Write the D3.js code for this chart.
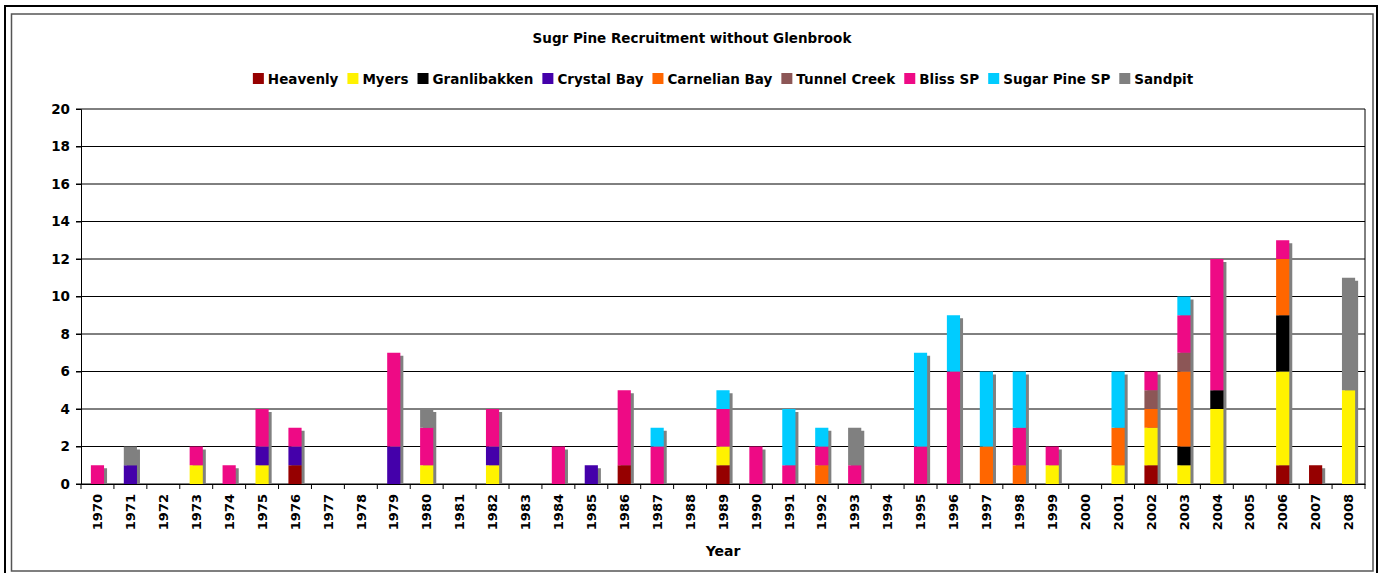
<!DOCTYPE html>
<html>
<head>
<meta charset="utf-8">
<script src="https://cdn.jsdelivr.net/npm/d3@7"></script>
<style>
  body { margin: 0; background: #fff; }
  text { font-family: "DejaVu Sans", Verdana, sans-serif; font-weight: bold; fill: #000; }
</style>
</head>
<body>
<script>
var years = d3.range(1970, 2009);

var sites = ["Heavenly", "Myers", "Granlibakken", "Crystal Bay", "Carnelian Bay",
             "Tunnel Creek", "Bliss SP", "Sugar Pine SP", "Sandpit"];
var colors = ["#960000", "#fff200", "#000000", "#4400aa", "#ff6600",
              "#8c5656", "#ee0a85", "#00ccff", "#808080"];

// one value per year, 1970..2008
var heavenly    = [0,0,0,0,0,0,1,0,0,0, 0,0,0,0,0,0,1,0,0,1, 0,0,0,0,0,0,0,0,0,0, 0,0,1,0,0,0,1,1,0];
var myers       = [0,0,0,1,0,1,0,0,0,0, 1,0,1,0,0,0,0,0,0,1, 0,0,0,0,0,0,0,0,0,1, 0,1,2,1,4,0,5,0,5];
var granlibakken= [0,0,0,0,0,0,0,0,0,0, 0,0,0,0,0,0,0,0,0,0, 0,0,0,0,0,0,0,0,0,0, 0,0,0,1,1,0,3,0,0];
var crystalBay  = [0,1,0,0,0,1,1,0,0,2, 0,0,1,0,0,1,0,0,0,0, 0,0,0,0,0,0,0,0,0,0, 0,0,0,0,0,0,0,0,0];
var carnelianBay= [0,0,0,0,0,0,0,0,0,0, 0,0,0,0,0,0,0,0,0,0, 0,0,1,0,0,0,0,2,1,0, 0,2,1,4,0,0,3,0,0];
var tunnelCreek = [0,0,0,0,0,0,0,0,0,0, 0,0,0,0,0,0,0,0,0,0, 0,0,0,0,0,0,0,0,0,0, 0,0,1,1,0,0,0,0,0];
var blissSP     = [1,0,0,1,1,2,1,0,0,5, 2,0,2,0,2,0,4,2,0,2, 2,1,1,1,0,2,6,0,2,1, 0,0,1,2,7,0,1,0,0];
var sugarPineSP = [0,0,0,0,0,0,0,0,0,0, 0,0,0,0,0,0,0,1,0,1, 0,3,1,0,0,5,3,4,3,0, 0,3,0,1,0,0,0,0,0];
var sandpit     = [0,1,0,0,0,0,0,0,0,0, 1,0,0,0,0,0,0,0,0,0, 0,0,0,2,0,0,0,0,0,0, 0,0,0,0,0,0,0,0,6];

var series = [heavenly, myers, granlibakken, crystalBay, carnelianBay,
              tunnelCreek, blissSP, sugarPineSP, sandpit];

var yTicks = [0, 2, 4, 6, 8, 10, 12, 14, 16, 18, 20];

var W = 1384, H = 573;
var plot = { left: 81, right: 1365, top: 109, bottom: 484 };

var svg = d3.select("body").append("svg")
  .attr("width", W)
  .attr("height", H);

// frames
svg.append("rect").attr("x", 5).attr("y", 6).attr("width", 1372).attr("height", 580)
  .attr("fill", "none").attr("stroke", "#000").attr("stroke-width", 2);
svg.append("rect").attr("x", 11.5).attr("y", 14).attr("width", 1361.5).attr("height", 557)
  .attr("fill", "#fff").attr("stroke", "#555").attr("stroke-width", 1.5);

// table for the stack
var table = years.map(function (y, i) {
  var row = { year: y };
  sites.forEach(function (s, k) { row[s] = series[k][i]; });
  return row;
});

var stack = d3.stack().keys(sites)(table);

var x = d3.scaleBand()
  .domain(years)
  .range([plot.left, plot.right])
  .paddingInner(0.6)
  .paddingOuter(0.3);

var yScale = d3.scaleLinear()
  .domain([0, 20])
  .range([plot.bottom, plot.top]);

// gridlines
svg.append("g")
  .selectAll("line")
  .data(yTicks)
  .enter().append("line")
    .attr("x1", plot.left - 5)
    .attr("x2", plot.right)
    .attr("y1", function (d) { return yScale(d); })
    .attr("y2", function (d) { return yScale(d); })
    .attr("stroke", "#000");

// plot border right
svg.append("line")
  .attr("x1", plot.right).attr("x2", plot.right)
  .attr("y1", plot.top).attr("y2", plot.bottom)
  .attr("stroke", "#000");

// shadows
var totals = table.map(function (r) { return d3.sum(sites, function (s) { return r[s]; }); });
svg.append("defs").append("clipPath").attr("id", "plotclip")
  .append("rect").attr("x", plot.left).attr("y", plot.top - 5)
  .attr("width", plot.right - plot.left).attr("height", plot.bottom - plot.top + 5);

svg.append("g")
  .attr("clip-path", "url(#plotclip)")
  .selectAll("rect")
  .data(years.filter(function (y, i) { return totals[i] > 0; }))
  .enter().append("rect")
    .attr("x", function (d) { return x(d) + 3; })
    .attr("y", function (d) { return yScale(totals[years.indexOf(d)]) + 3; })
    .attr("width", x.bandwidth())
    .attr("height", function (d) { return plot.bottom - yScale(totals[years.indexOf(d)]); })
    .attr("fill", "#808080");

// bars
svg.append("g")
  .selectAll("g")
  .data(stack)
  .enter().append("g")
    .attr("fill", function (d, i) { return colors[i]; })
  .selectAll("rect")
  .data(function (d) { return d.filter(function (p) { return p[1] > p[0]; }); })
  .enter().append("rect")
    .attr("x", function (p) { return x(p.data.year); })
    .attr("y", function (p) { return yScale(p[1]); })
    .attr("width", x.bandwidth())
    .attr("height", function (p) { return yScale(p[0]) - yScale(p[1]); });

// y axis
var yAxis = d3.axisLeft(yScale).tickValues(yTicks).tickSize(5).tickPadding(6);
var gy = svg.append("g")
  .attr("transform", "translate(" + plot.left + ",0)")
  .call(yAxis);
gy.select(".domain").attr("stroke", "#000");
gy.selectAll("text").style("font-size", "13.5px");

// x axis
var xAxis = d3.axisBottom(x).tickSize(0).tickPadding(7);
var gx = svg.append("g")
  .attr("transform", "translate(0," + plot.bottom + ")")
  .call(xAxis);
gx.select(".domain").attr("stroke", "#000");
gx.selectAll("text")
  .style("font-size", "13px")
  .attr("transform", "rotate(-90)")
  .attr("text-anchor", "end")
  .attr("dy", "0.36em")
  .attr("x", -10)
  .attr("y", 0);

// category boundary ticks
svg.append("g")
  .selectAll("line")
  .data(d3.range(years.length + 1))
  .enter().append("line")
    .attr("x1", function (i) { return plot.left + i * x.step(); })
    .attr("x2", function (i) { return plot.left + i * x.step(); })
    .attr("y1", plot.bottom)
    .attr("y2", plot.bottom + 5)
    .attr("stroke", "#000");

// title
svg.append("text")
  .attr("x", 692).attr("y", 43)
  .attr("text-anchor", "middle")
  .style("font-size", "13.5px")
  .text("Sugr Pine Recruitment without Glenbrook");

// axis title
svg.append("text")
  .attr("x", (plot.left + plot.right) / 2).attr("y", 556)
  .attr("text-anchor", "middle")
  .style("font-size", "14px")
  .text("Year");

// legend
var legend = svg.append("g");
var lx = 0;
sites.forEach(function (s, i) {
  var g = legend.append("g").attr("transform", "translate(" + lx + ",0)");
  g.append("rect").attr("x", 0).attr("y", 73).attr("width", 11).attr("height", 11)
    .attr("fill", colors[i]);
  var t = g.append("text").attr("x", 15).attr("y", 84)
    .style("font-size", "13.5px").text(s);
  lx += 15 + t.node().getComputedTextLength() + 9;
});
var legW = lx - 9;
legend.attr("transform", "translate(" + ((plot.left + plot.right) / 2 - legW / 2) + ",0)");
</script>
</body>
</html>
